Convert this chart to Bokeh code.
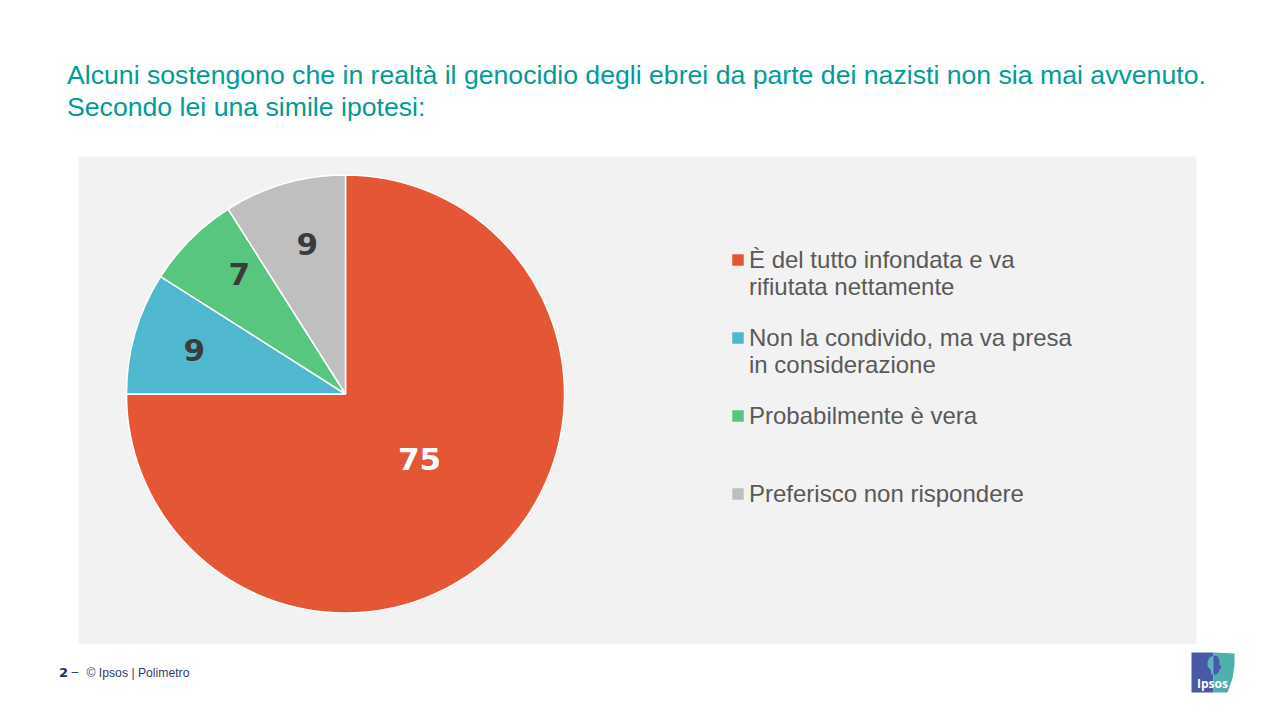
#!/usr/bin/python
from math import pi, sin, cos

from bokeh.embed import file_html
from bokeh.models import ColumnDataSource, Range1d
from bokeh.plotting import figure
from bokeh.resources import INLINE

title_lines = [
    "Alcuni sostengono che in realtà il genocidio degli ebrei da parte dei nazisti non sia mai avvenuto.",
    "Secondo lei una simile ipotesi:",
]
categories = [
    "È del tutto infondata e va\nrifiutata nettamente",
    "Non la condivido, ma va presa\nin considerazione",
    "Probabilmente è vera",
    "Preferisco non rispondere",
]
values = [75, 9, 7, 9]
colors = ["#E55636", "#4FB8CE", "#58C67E", "#BFBFBF"]
label_colors = ["#FFFFFF", "#3B3B3B", "#3B3B3B", "#3B3B3B"]

W, H = 1264, 704


# work in page pixels and flip y
def fy(y):
    return H - y


p = figure(width=W, height=H, output_backend="svg", toolbar_location=None,
           x_range=Range1d(0, W), y_range=Range1d(0, H),
           x_axis_type=None, y_axis_type=None, min_border=0)
p.outline_line_color = None
p.grid.visible = False

# grey panel
p.quad(left=[78], right=[1196], bottom=[fy(643.5)], top=[fy(156)], fill_color="#F2F2F2", line_color=None)

# title
p.text(x=[66.5] * 2, y=[fy(74.5), fy(106.5)], text=title_lines, text_font={"value": "Liberation Sans"},
       text_font_size={"value": "26.65px"}, text_color="#009C95", text_baseline="middle")

# pie, clockwise from 12 o'clock
total = float(sum(values))
cx, cy, radius = 345, fy(393.5), 219
starts, ends, mids = [], [], []
acc = 0
for v in values:
    a0 = pi / 2 - 2 * pi * acc / total
    acc += v
    a1 = pi / 2 - 2 * pi * acc / total
    starts.append(a0)
    ends.append(a1)
    mids.append((a0 + a1) / 2)

pie = ColumnDataSource(dict(start=starts, end=ends, color=colors))
p.wedge(x=cx, y=cy, radius=radius, radius_units="screen", start_angle="start", end_angle="end",
        direction="clock", fill_color="color", line_color="white", line_width=1.5, source=pie)

# data labels, moved off the slice middle by hand like the original
label_r = [99, 157, 158, 153]
nudge_x = [4, -0.5, 5.5, 4.5]
nudge_y = [5.5, 0.5, 8, 3.5]
lx = [cx + r * cos(m) + n for r, m, n in zip(label_r, mids, nudge_x)]
ly = [cy + r * sin(m) + n for r, m, n in zip(label_r, mids, nudge_y)]
p.text(x=lx, y=ly, text=[str(v) for v in values], text_font={"value": "DejaVu Sans"},
       text_font_style="bold", text_font_size={"value": "31px"}, text_color=label_colors,
       text_align="center", text_baseline="middle")

# legend
leg_x, leg_y, leg_step, line_h = 737.5, 259.5, 78, 27
p.scatter(x=[leg_x] * len(categories), y=[fy(leg_y + i * leg_step) for i in range(len(categories))],
          marker="square", size=11.5, fill_color=colors, line_color=None)
leg_text, leg_text_y = [], []
for i, c in enumerate(categories):
    for j, line in enumerate(c.split("\n")):
        leg_text.append(line)
        leg_text_y.append(fy(leg_y - 1 + i * leg_step + j * line_h))
p.text(x=[748.5] * len(leg_text), y=leg_text_y, text=leg_text, text_font={"value": "Liberation Sans"},
       text_font_size={"value": "24px"}, text_color="#595959", text_baseline="middle")

# footer
p.text(x=[58.5], y=[fy(671.5)], text=["2"], text_font={"value": "DejaVu Sans"}, text_font_style="bold",
       text_font_size={"value": "13px"}, text_color="#1F2D6B", text_baseline="middle")
p.text(x=[71], y=[fy(671.5)], text=["–"], text_font={"value": "Liberation Sans"},
       text_font_size={"value": "12px"}, text_color="#1F2D6B", text_baseline="middle")
p.text(x=[86], y=[fy(672)], text=["© Ipsos | Polimetro"], text_font={"value": "Liberation Sans"},
       text_font_size={"value": "12.2px"}, text_color="#2F3B73", text_baseline="middle")

# Ipsos logo
p.patch(x=[1191, 1213, 1213, 1191], y=[fy(652), fy(652), fy(692), fy(692)], fill_color="#4A58A8", line_color=None)
p.patch(x=[1213, 1234, 1234, 1232, 1227, 1213], y=[fy(652), fy(653), fy(665), fy(678), fy(692), fy(692)],
        fill_color="#4FAFAD", line_color=None)
# back of the head, teal on blue
p.patch(x=[1213, 1209, 1207, 1207, 1210, 1211, 1213], y=[fy(655), fy(657), fy(661), fy(666), fy(669), fy(674), fy(674)],
        fill_color="#5AB4BC", line_color=None)
# face, blue on teal
p.patch(x=[1213, 1217, 1219, 1219, 1221, 1219, 1218, 1215, 1213],
        y=[fy(655), fy(656), fy(660), fy(664), fy(667), fy(669), fy(672), fy(674), fy(674)],
        fill_color="#4A58A8", line_color=None)
p.text(x=[1212], y=[fy(682.5)], text=["Ipsos"], text_font={"value": "Open Sans"}, text_font_style="bold",
       text_font_size={"value": "12px"}, text_color="#FFFFFF", text_align="center", text_baseline="middle")

open("out.html", "w").write(file_html(p, INLINE))
